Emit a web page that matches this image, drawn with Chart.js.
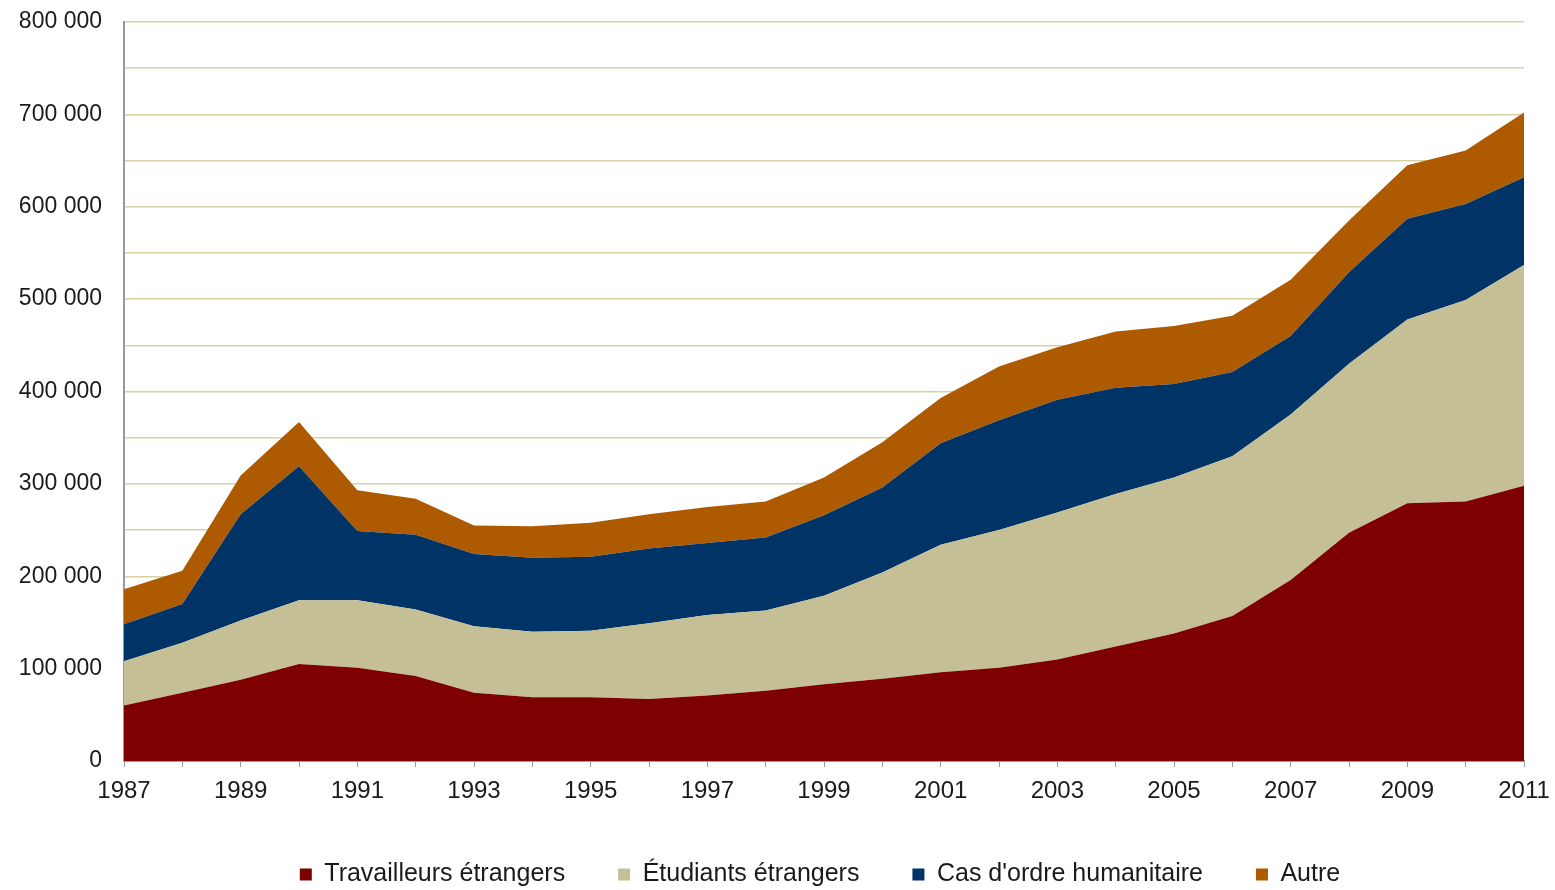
<!DOCTYPE html>
<html>
<head>
<meta charset="utf-8">
<script src="https://cdn.jsdelivr.net/npm/chart.js@4"></script>
<style>
  html, body { margin: 0; padding: 0; background: #fff; }
  #wrap { width: 1555px; height: 890px; }
</style>
</head>
<body>
<div id="wrap"><canvas id="chart"></canvas></div>
<script>
// Data
const years = ['1987', '1988', '1989', '1990', '1991', '1992', '1993', '1994', '1995', '1996', '1997', '1998', '1999',
    '2000', '2001', '2002', '2003', '2004', '2005', '2006', '2007', '2008', '2009', '2010', '2011'];
const travailleurs = [60000, 74000, 88000, 105000, 101000, 92000, 74000, 69000, 69000, 67000, 71000, 76000, 83000,
    89000, 96000, 101000, 110000, 124000, 138000, 157000, 196000, 247000, 279000, 281000, 298000];
const etudiants = [48000, 54000, 64000, 69000, 73000, 72000, 72000, 71000, 72000, 82000, 87000, 87000, 96000,
    115000, 138000, 149000, 159000, 165000, 169000, 173000, 179000, 183000, 199000, 218000, 239000];
const humanitaire = [40000, 42000, 115000, 145000, 75000, 81000, 78000, 80000, 80000, 81000, 78000, 79000, 87000,
    92000, 110000, 119000, 122000, 115000, 101000, 91000, 85000, 99000, 109000, 104000, 95000];
const autre = [38000, 36000, 42000, 48000, 44000, 39000, 31000, 34000, 37000, 37000, 39000, 39000, 41000,
    49000, 49000, 58000, 57000, 61000, 63000, 61000, 61000, 56000, 58000, 58000, 70000];
const seriesNames = ['Travailleurs étrangers', 'Étudiants étrangers', "Cas d'ordre humanitaire", 'Autre'];
const seriesColors = ['#7f0000', '#c5bf95', '#003366', '#ae5a00'];

const FONT = 'Liberation Sans, Arial, sans-serif';

function formatThousands(v) {
    return String(v).replace(/\B(?=(\d{3})+(?!\d))/g, ' ');
}

// legend sits under the plot area, not under the whole canvas
const legendShift = {
    id: 'legendShift',
    afterLayout(chart) {
        const l = chart.legend;
        l.left += 58;
        l.right += 58;
        l.top += 7;
        l.bottom += 7;
    }
};

const ctx = document.getElementById('chart').getContext('2d');
const seriesData = [travailleurs, etudiants, humanitaire, autre];

const chart = new Chart(ctx, {
    type: 'line',
    data: {
        labels: years,
        datasets: seriesData.map((d, i) => ({
            label: seriesNames[i],
            data: d,
            backgroundColor: seriesColors[i],
            borderColor: seriesColors[i],
            borderWidth: 0,
            pointRadius: 0,
            tension: 0,
            fill: i === 0 ? 'origin' : '-1'
        }))
    },
    plugins: [legendShift],
    options: {
        responsive: true,
        maintainAspectRatio: false,
        animation: false,
        layout: {
            padding: { top: 22, right: 31, bottom: 0, left: 0 }
        },
        plugins: {
            tooltip: { enabled: false },
            legend: {
                position: 'bottom',
                labels: {
                    boxWidth: 12,
                    boxHeight: 12,
                    padding: 53,
                    color: '#1a1a1a',
                    font: { family: FONT, size: 25 }
                }
            }
        },
        scales: {
            x: {
                offset: false,
                afterFit: function (scale) {
                    scale.height = 41;
                    scale.paddingLeft = 0;
                    scale.paddingRight = 0;
                },
                grid: {
                    display: true,
                    drawOnChartArea: false,
                    drawTicks: true,
                    tickLength: 6,
                    color: '#999999'
                },
                border: { color: '#999999', width: 2 },
                ticks: {
                    autoSkip: false,
                    maxRotation: 0,
                    padding: 10,
                    color: '#1a1a1a',
                    font: { family: FONT, size: 24 },
                    callback: function (val, idx) {
                        return idx % 2 === 0 ? this.getLabelForValue(val) : '';
                    }
                }
            },
            y: {
                stacked: true,
                min: 0,
                max: 800000,
                afterFit: function (scale) {
                    scale.width = 124;
                    scale.paddingTop = 0;
                    scale.paddingBottom = 0;
                },
                grid: {
                    color: '#d8d1a5',
                    lineWidth: 1.5,
                    drawTicks: false
                },
                border: { color: '#999999', width: 2 },
                ticks: {
                    stepSize: 50000,
                    padding: 22,
                    color: '#1a1a1a',
                    font: { family: FONT, size: 23 },
                    callback: function (v) {
                        return v % 100000 === 0 ? formatThousands(v) : '';
                    }
                }
            }
        }
    }
});
</script>
</body>
</html>
